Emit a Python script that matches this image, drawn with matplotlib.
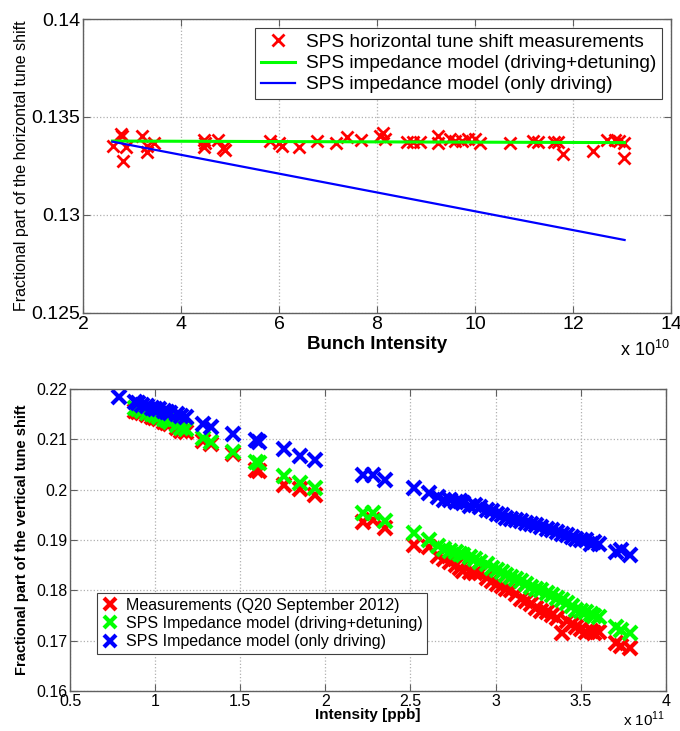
import matplotlib
matplotlib.use("Agg")
import matplotlib.pyplot as plt
import numpy as np

plt.rcParams['font.family'] = ['Liberation Sans', 'DejaVu Sans']
plt.rcParams['mathtext.fontset'] = 'custom'
plt.rcParams['mathtext.rm'] = 'Liberation Sans'

# ---- top panel: horizontal tune shift (intensity in units of 1e10) ----
h_int = [2.61, 2.77, 2.79, 2.88, 2.82, 3.20, 3.31, 3.31, 3.44, 4.46, 4.46, 4.49, 4.76,
         4.86, 4.90, 5.82, 5.99, 6.06, 6.41, 6.77, 7.16, 7.38, 7.67, 8.05, 8.12, 8.16,
         8.61, 8.74, 8.88, 9.25, 9.25, 9.49, 9.59, 9.73, 9.86, 10.00, 10.10, 10.71,
         11.19, 11.29, 11.60, 11.70, 11.80, 12.41, 12.69, 12.86, 12.93, 13.03, 13.03]
h_tune = [0.13352, 0.13413, 0.13403, 0.13345, 0.13277, 0.13403, 0.13352, 0.13323,
          0.13369, 0.13383, 0.13348, 0.13366, 0.13383, 0.13340, 0.13332, 0.13379,
          0.13366, 0.13352, 0.13348, 0.13379, 0.13369, 0.13400, 0.13383, 0.13403,
          0.13420, 0.13386, 0.13374, 0.13374, 0.13374, 0.13403, 0.13366, 0.13386,
          0.13379, 0.13379, 0.13390, 0.13390, 0.13366, 0.13369, 0.13379, 0.13374,
          0.13374, 0.13374, 0.13311, 0.13328, 0.13383, 0.13383, 0.13379, 0.13366,
          0.13289]
model_int = [2.6, 13.05]
model_full = [0.13377, 0.13369]
model_drive = [0.13374, 0.12872]

# ---- bottom panel: vertical tune shift (intensity in units of 1e11) ----
v_int = [0.79, 0.88, 0.90, 0.92, 0.95, 0.98, 1.00, 1.02, 1.05, 1.07, 1.09, 1.13, 1.15,
         1.18, 1.28, 1.33, 1.46, 1.59, 1.61, 1.76, 1.85, 1.94, 2.22, 2.28, 2.35, 2.52,
         2.61, 2.66, 2.70, 2.73, 2.77, 2.79, 2.81, 2.85, 2.88, 2.91, 2.95, 2.98, 3.01,
         3.04, 3.06, 3.09, 3.12, 3.15, 3.18, 3.21, 3.24, 3.27, 3.30, 3.33, 3.36, 3.39,
         3.42, 3.45, 3.47, 3.50, 3.53, 3.56, 3.58, 3.61, 3.71, 3.74, 3.79]
v_meas = [np.nan, 0.2157, 0.2155, 0.2152, 0.2148, 0.2145, 0.2143, 0.2140, 0.2135,
          0.2133, 0.2130, 0.2122, 0.2116, 0.2115, 0.2096, 0.2090, 0.2071, 0.2040,
          0.2038, 0.2010, 0.2002, 0.1989, 0.1936, 0.1940, 0.1923, 0.1890, 0.1887,
          0.1868, 0.1862, 0.1857, 0.1850, 0.1845, 0.1838, 0.1836, 0.1834, 0.1834,
          0.1825, 0.1818, 0.1812, 0.1808, 0.1802, 0.1800, 0.1792, 0.1783, 0.1778,
          0.1772, 0.1765, 0.1760, 0.1757, 0.1752, 0.1745, 0.1715, 0.1740, 0.1733,
          0.1728, 0.1723, 0.1718, 0.1720, 0.1716, 0.1718, 0.1695, 0.1690, 0.1685]
v_full = [np.nan, 0.2162, 0.2160, 0.2157, 0.2153, 0.2150, 0.2148, 0.2145, 0.2140,
          0.2138, 0.2135, 0.2128, 0.2122, 0.2121, 0.2102, 0.2094, 0.2075, 0.2055,
          0.2053, 0.2028, 0.2014, 0.2003, 0.1953, 0.1953, 0.1937, 0.1914, 0.1900,
          0.1888, 0.1882, 0.1878, 0.1876, 0.1873, 0.1870, 0.1866, 0.1863, 0.1857,
          0.1852, 0.1845, 0.1841, 0.1836, 0.1830, 0.1826, 0.1822, 0.1818, 0.1813,
          0.1807, 0.1803, 0.1800, 0.1795, 0.1790, 0.1785, 0.1781, 0.1774, 0.1768,
          0.1762, 0.1760, 0.1757, 0.1754, 0.1750, 0.1748, 0.1728, 0.1722, 0.1716]
v_drive = [0.2185, 0.2174, 0.2172, 0.2168, 0.2166, 0.2162, 0.2161, 0.2160, 0.2157,
           0.2155, 0.2153, 0.2151, 0.2146, 0.2145, 0.2131, 0.2125, 0.2111, 0.2099,
           0.2095, 0.2080, 0.2067, 0.2059, 0.2030, 0.2029, 0.2019, 0.2004, 0.1993,
           0.1986, 0.1980, 0.1979, 0.1976, 0.1977, 0.1973, 0.1967, 0.1969, 0.1965,
           0.1960, 0.1957, 0.1951, 0.1950, 0.1944, 0.1942, 0.1940, 0.1937, 0.1933,
           0.1932, 0.1930, 0.1926, 0.1921, 0.1920, 0.1917, 0.1913, 0.1910, 0.1906,
           0.1903, 0.1901, 0.1900, 0.1893, 0.1896, 0.1893, 0.1877, 0.1880, 0.1871]

top_xticks = [2, 4, 6, 8, 10, 12, 14]
top_yticks = [0.125, 0.13, 0.135, 0.14]
bot_xticks = [0.5, 1, 1.5, 2, 2.5, 3, 3.5, 4]
bot_yticks = [0.16, 0.17, 0.18, 0.19, 0.2, 0.21, 0.22]


def matlab_style(ax, fs):
    for s in ax.spines.values():
        s.set_color('#606060')
        s.set_linewidth(1.0)
    ax.tick_params(direction='in', top=True, right=True, length=5, width=0.8,
                   color='#606060', labelsize=fs, pad=2)
    ax.grid(True, linestyle=':', color='#b0b0b0', linewidth=0.9)
    ax.set_axisbelow(True)


def fmt(v):
    return ('%g' % v)


fig = plt.figure(figsize=(6.8, 7.31), dpi=100)

ax1 = fig.add_axes([0.122, 0.572, 0.865, 0.402])
ax1.plot(h_int, h_tune, 'x', color='red', ms=8.5, mew=2,
         label='SPS horizontal tune shift measurements')
ax1.plot(model_int, model_full, '-', color='#00ff00', lw=2.2,
         label='SPS impedance model (driving+detuning)')
ax1.plot(model_int, model_drive, '-', color='blue', lw=1.6,
         label='SPS impedance model (only driving)')
ax1.set_xlim(2, 14)
ax1.set_ylim(0.125, 0.14)
ax1.set_xticks(top_xticks)
ax1.set_xticklabels([fmt(t) for t in top_xticks])
ax1.set_yticks(top_yticks)
ax1.set_yticklabels([fmt(t) for t in top_yticks])
matlab_style(ax1, 14)
ax1.set_xlabel('Bunch Intensity', fontsize=13.5, fontweight='bold')
ax1.xaxis.set_label_coords(0.5, -0.109)
ax1.xaxis.label.set_va('center')
ax1.set_ylabel('Fractional part of the horizontal tune shift', fontsize=11.5)
ax1.yaxis.set_label_coords(-0.104, 0.5)
ax1.yaxis.label.set_va('center')
leg1 = ax1.legend(loc='upper right', bbox_to_anchor=(0.985, 0.969), borderaxespad=0,
                  fontsize=13.7, fancybox=False, framealpha=1, edgecolor='#404040',
                  handlelength=1.8, labelspacing=0.2, borderpad=0.3, handletextpad=0.6)
leg1.get_frame().set_linewidth(0.8)
fig.text(0.985, 0.521, r'x 10$^{10}$', fontsize=13, ha='right', va='center')

ax2 = fig.add_axes([0.103, 0.0547, 0.876, 0.413])
ax2.plot(v_int, v_meas, 'x', color='red', ms=10, mew=3,
         label='Measurements (Q20 September 2012)')
ax2.plot(v_int, v_full, 'x', color='#00ff00', ms=10, mew=3,
         label='SPS Impedance model (driving+detuning)')
ax2.plot(v_int, v_drive, 'x', color='blue', ms=10, mew=3,
         label='SPS Impedance model (only driving)')
ax2.set_xlim(0.5, 4)
ax2.set_ylim(0.16, 0.22)
ax2.set_xticks(bot_xticks)
ax2.set_xticklabels([fmt(t) for t in bot_xticks])
ax2.set_yticks(bot_yticks)
ax2.set_yticklabels([fmt(t) for t in bot_yticks])
matlab_style(ax2, 11.5)
ax2.set_xlabel('Intensity [ppb]', fontsize=11, fontweight='bold')
ax2.xaxis.set_label_coords(0.5, -0.0795)
ax2.xaxis.label.set_va('center')
ax2.set_ylabel('Fractional part of the vertical tune shift', fontsize=10.5,
               fontweight='bold')
ax2.yaxis.set_label_coords(-0.0805, 0.5)
ax2.yaxis.label.set_va('center')
leg2 = ax2.legend(loc='lower left', bbox_to_anchor=(0.045, 0.1225), borderaxespad=0,
                  fontsize=11.5, fancybox=False, framealpha=1, edgecolor='#404040',
                  handlelength=1.0, labelspacing=0.2, borderpad=0.3, handletextpad=0.5,
                  markerscale=0.9)
leg2.get_frame().set_linewidth(0.8)
fig.text(0.978, 0.0164, r'x 10$^{11}$', fontsize=11, ha='right', va='center')

fig.savefig('out.png', dpi=100)
